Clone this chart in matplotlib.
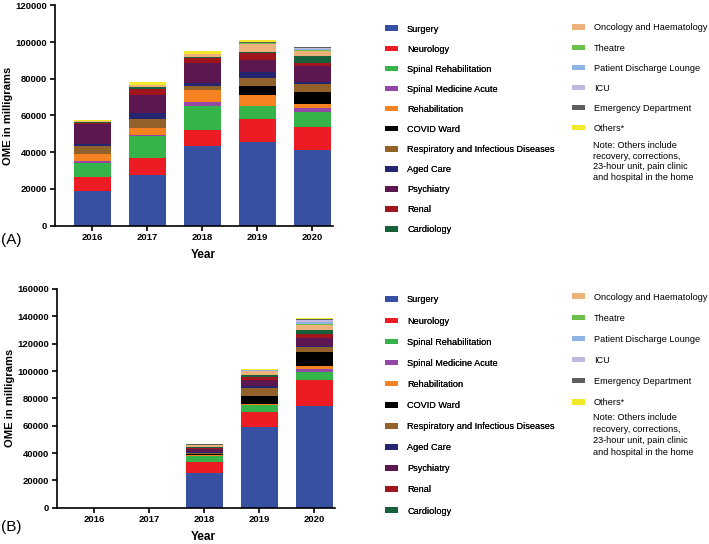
import matplotlib.pyplot as plt
import numpy as np

plt.rcParams['font.family'] = ['Liberation Sans', 'DejaVu Sans']

years = ['2016', '2017', '2018', '2019', '2020']
wards = ['Surgery', 'Neurology', 'Spinal Rehabilitation', 'Spinal Medicine Acute',
         'Rehabilitation', 'COVID Ward', 'Respiratory and Infectious Diseases',
         'Aged Care', 'Psychiatry', 'Renal', 'Cardiology',
         'Oncology and Haematology', 'Theatre', 'Patient Discharge Lounge',
         'ICU', 'Emergency Department', 'Others*']
colors = ['#3850a2', '#ed1c24', '#35b44a', '#9448a6', '#f58220', '#000000',
          '#93612a', '#262670', '#5c1650', '#a0161c', '#17603a',
          '#edb27c', '#6cbf4b', '#8fb4e3', '#c2b8e0', '#5f5f5f', '#f2e92a']

# OME (mg) per ward, in the order of `wards` -- panel A
a2016 = [18900, 7400, 7800, 1000, 4000, 0, 4500, 1100, 10800, 400, 300, 600, 50, 0, 100, 300, 200]
a2017 = [27600, 9200, 12200, 200, 4200, 0, 4900, 3300, 9400, 3600, 1100, 700, 50, 0, 100, 200, 1500]
a2018 = [43200, 8900, 13200, 1900, 6700, 0, 2100, 1500, 10900, 2700, 900, 1300, 100, 0, 100, 200, 1400]
a2019 = [45600, 12400, 7200, 200, 5600, 4900, 4500, 3300, 6700, 3400, 800, 4600, 200, 100, 200, 500, 1000]
a2020 = [41000, 12600, 8100, 2200, 2400, 6300, 4400, 1500, 8500, 1800, 3800, 2700, 300, 400, 600, 500, 300]

# panel B
b2016 = [0] * 17
b2017 = [0] * 17
b2018 = [25100, 8400, 4000, 300, 800, 500, 1000, 500, 2500, 800, 600, 1200, 100, 100, 200, 200, 500]
b2019 = [59300, 10800, 4900, 200, 1000, 5500, 5600, 1700, 4400, 2400, 1500, 2900, 100, 100, 200, 200, 500]
b2020 = [74400, 19000, 5700, 2400, 2200, 10400, 3200, 1000, 5700, 3100, 2900, 3900, 600, 1200, 1600, 800, 800]

note = 'Note: Others include\nrecovery, corrections,\n23-hour unit, pain clinic\nand hospital in the home'

W, H = 709, 544
fig = plt.figure(figsize=(W / 100, H / 100), dpi=100)


def px(x0, y0, x1, y1):
    # pixel box -> figure fraction rect
    return [x0 / W, 1 - y1 / H, (x1 - x0) / W, (y1 - y0) / H]


def panel(rect, cols, ymax, tag, tag_y, year_y, leg_top1, leg_top2, note_top, ls, note_ls):
    ax = fig.add_axes(rect)
    data = np.array(cols).T
    x = np.arange(len(years))
    bottom = np.zeros(len(years))
    bars = []
    for i, name in enumerate(wards):
        b = ax.bar(x, data[i], 0.67, bottom=bottom, color=colors[i], label=name, linewidth=0)
        bars.append(b)
        bottom += data[i]
    ax.set_xlim(-0.68, 4.38)
    ax.set_ylim(0, ymax)
    ax.set_yticks(np.arange(0, ymax + 1, 20000))
    ax.set_xticks(x)
    ax.set_xticklabels(years)
    for s in ['top', 'right']:
        ax.spines[s].set_visible(False)
    for s in ['left', 'bottom']:
        ax.spines[s].set_linewidth(1.2)
    ax.tick_params(direction='out', length=3.5, width=1.2, labelsize=6.8, pad=2)
    for t in ax.get_xticklabels() + ax.get_yticklabels():
        t.set_fontweight('bold')
    ax.set_ylabel('OME in milligrams', fontsize=8.1, fontweight='bold')
    ax.yaxis.set_label_coords(-0.15, 0.5)
    fig.text(203 / W, 1 - year_y / H, 'Year', fontsize=8.5, fontweight='bold', ha='center', va='center')
    fig.text(1 / W, 1 - tag_y / H, tag, fontsize=11, ha='left', va='center')

    kw = dict(loc='upper left', frameon=False, fontsize=6.6, borderpad=0, borderaxespad=0,
              handlelength=1.45, handleheight=0.55, handletextpad=0.95, labelspacing=ls)
    leg1 = fig.legend(bars[:11], wards[:11], bbox_to_anchor=(385 / W, 1 - leg_top1 / H), **kw)
    fig.legend(bars[11:], wards[11:], bbox_to_anchor=(572 / W, 1 - leg_top2 / H), **kw)
    fig.add_artist(leg1)
    fig.text(592.7 / W, 1 - note_top / H, note, fontsize=6.6, va='top', ha='left', linespacing=note_ls)
    return ax


panel(px(55, 5.3, 333.3, 225.7), [a2016, a2017, a2018, a2019, a2020], 120000,
      '(A)', 240, 255, 24.5, 23.5, 141, 1.21, 1.24)
panel(px(56.7, 289, 335, 507.7), [b2016, b2017, b2018, b2019, b2020], 160000,
      '(B)', 527, 537, 295.5, 292.5, 413, 1.32, 1.36)

fig.savefig('out.png', dpi=100)
